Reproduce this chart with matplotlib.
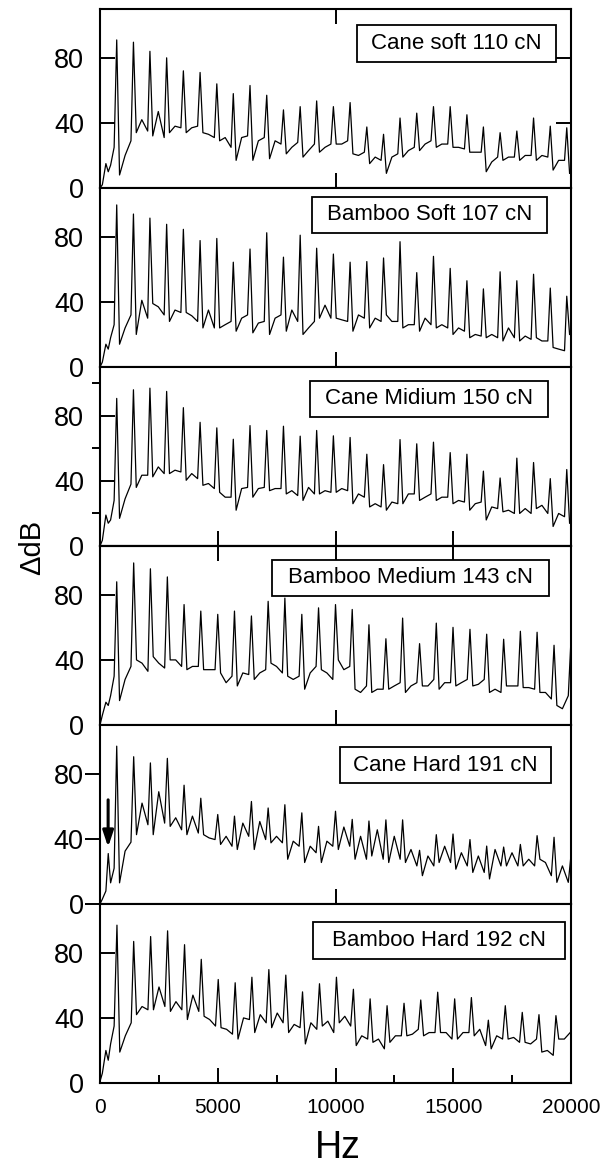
import matplotlib
matplotlib.use("Agg")
import matplotlib.pyplot as plt
from matplotlib.patches import Rectangle

plt.rcParams["font.family"] = ["Liberation Sans", "DejaVu Sans"]

# ---- data (Hz, dB) ----
RAMP_HZ = [0, 100, 250, 350, 450, 600]

# harmonic peak positions (Hz)
HARM_A = [710, 1420, 2120, 2830, 3540, 4250, 4960, 5660, 6370, 7080, 7790, 8500,
          9200, 9910, 10620, 11330, 12040, 12740, 13450, 14160, 14870, 15580,
          16280, 16990, 17700, 18410, 19120, 19820]
HARM_B = [710, 1430, 2140, 2860, 3570, 4280, 5000, 5710, 6430, 7140, 7850, 8570,
          9280, 10000, 10710, 11420, 12140, 12850, 13570, 14280, 14990, 15710,
          16420, 17140, 17850, 18560, 19280, 19990]
HARM_C = [720, 1430, 2150, 2870, 3590, 4300, 5020, 5740, 6450, 7170, 7890, 8600,
          9320, 10040, 10760, 11470, 12190, 12910, 13620, 14340, 15060, 15770,
          16490, 17210, 17930, 18640, 19360]

# offsets of trough / mid / pre-peak points after each harmonic
T_OFF, M_OFF, P_OFF = 120, 355, 605

CANE_SOFT_RAMP = [0, 2, 15, 10, 14, 25]
CANE_SOFT_PEAK = [91, 89.6, 84, 80, 72, 71, 64, 58, 63, 57, 48, 50, 53.5, 50, 52.5,
                  37.5, 33, 43, 46, 50, 50, 45, 37.5, 34, 35, 43, 38, 37]
CANE_SOFT_TROUGH = [8, 34, 32, 34, 34, 34, 29, 17, 17, 18, 21, 19, 22, 27, 21, 15, 9,
                    19, 23, 25, 25, 22, 10, 17, 17, 17, 11, 9]
CANE_SOFT_MID = [20, 42, 47, 38, 37, 33, 31, 31, 29, 29, 25, 23, 25, 27, 20, 19, 19,
                 23, 27, 27, 25, 22, 16, 19, 20, 20, 17]
CANE_SOFT_PRE = [29, 35, 31, 37, 38, 31, 25, 32, 31, 27, 28, 27, 27, 29, 22, 17, 21,
                 25, 29, 27, 24, 22, 19, 19, 20, 19, 17]

BAMBOO_SOFT_RAMP = [0, 3, 14, 11, 18, 26]
BAMBOO_SOFT_PEAK = [99.6, 94, 91.5, 87.7, 84.6, 77.7, 79, 64.4, 72.5, 82.5, 67.5, 81,
                    73, 69.4, 64.4, 64.8, 67, 77, 58, 68, 60.6, 53, 48, 58.5, 53, 57,
                    48.5, 43.5]
BAMBOO_SOFT_TROUGH = [14, 20, 39, 28, 33.5, 24, 24, 22, 21, 20, 22, 20, 30, 30, 22, 24,
                      32, 24, 22, 24, 20, 18, 18, 16, 16, 18, 12, 20]
BAMBOO_SOFT_MID = [24, 41, 37, 35, 31.5, 35, 26, 30, 27, 30, 35, 24, 38, 29, 32, 30,
                   28, 26, 30, 26, 24, 20, 20, 24, 19, 16, 11]
BAMBOO_SOFT_PRE = [32, 30, 32, 33.5, 28, 24, 28, 32, 28, 32, 28, 28, 30, 28, 30, 28,
                   28, 26, 26, 24, 22, 19, 18, 18, 17, 16, 10]

CANE_MED_RAMP = [0, 3.5, 19, 14, 16, 28]
CANE_MED_PEAK = [90.7, 96, 97, 95, 85, 76, 72.6, 65.6, 74, 71, 73.6, 67.5, 71, 67.7,
                 66.7, 56.4, 50, 65.4, 62.8, 63.8, 57.4, 56.4, 46, 41.8, 54, 51.3,
                 41.4, 47]
CANE_MED_TROUGH = [17, 36, 42.5, 44.5, 40.4, 37.3, 33, 22, 30, 34, 32, 28, 32, 33, 26,
                   24, 22, 26, 28, 28, 26, 22, 16, 21, 20, 23, 12, 14]
CANE_MED_MID = [29, 43.5, 48.6, 46.6, 44.5, 38.4, 30, 35.3, 35.3, 35.3, 34, 36, 34,
                35.3, 32, 26, 27, 32, 30, 30, 28, 26, 24, 22, 23, 25, 20]
CANE_MED_PRE = [38, 43.5, 44.5, 45.5, 41.4, 35.3, 30, 36, 36, 35.3, 31, 32, 33, 34,
                30, 24, 26, 32, 32, 30, 27, 27, 23, 20, 20, 20, 18]

BAMBOO_MED_RAMP = [0, 6, 14, 12, 18, 30]
BAMBOO_MED_PEAK = [88, 99.6, 96, 91, 74, 70, 68, 70, 67, 76, 78, 68, 72, 74, 71, 61.6,
                   53, 65.7, 50, 62.6, 60, 58.8, 55.8, 52.7, 57.6, 57, 49, 49.7]
BAMBOO_MED_TROUGH = [15, 40, 42, 40, 34, 34, 32, 24, 28, 38, 30, 22, 34, 40, 22, 20,
                     22, 20, 24, 22, 24, 24, 20, 24, 23, 20, 12]
BAMBOO_MED_MID = [28, 38, 38, 40, 36, 34, 26, 32, 32, 36, 28, 32, 32, 34, 20, 22, 24,
                  24, 24, 26, 26, 25, 22, 24, 23, 20, 10]
BAMBOO_MED_PRE = [36, 33, 35, 36, 36, 34, 30, 31, 34, 32, 30, 36, 28, 36, 24, 22, 26,
                  26, 28, 26, 28, 28, 20, 24, 22, 16, 18]

CANE_HARD_RAMP = [0, 3, 8, 31, 13, 22]
CANE_HARD_PEAK = [97, 90.5, 86.7, 89.5, 73, 65, 55, 54, 63, 59, 61, 56, 47.7, 57, 52,
                  51, 51.7, 51.7, 33, 42.6, 43, 39.6, 35.6, 35, 36.6, 42, 41, 28.5]
CANE_HARD_TROUGH = [13, 42.6, 42.6, 47.7, 42.6, 42.6, 36.6, 33.5, 33.5, 37.6, 27.5,
                    25.5, 25.5, 33.5, 27.5, 29.5, 25.5, 25.5, 17.4, 25.5, 21.4, 19.4,
                    15.4, 23.4, 23.4, 27.5, 13.3]
CANE_HARD_MID = [32.5, 62, 69, 53, 54, 40.6, 41.6, 49.7, 50.7, 41.6, 38.6, 35.5, 38.6,
                 47.3, 41.6, 45.6, 41.6, 33.5, 29.5, 35.5, 31.5, 29.5, 33.5, 31.5,
                 27.5, 25.5, 23.4]
CANE_HARD_PRE = [38, 48.7, 49.7, 45.6, 43.6, 39.6, 35.5, 41.6, 39.6, 37.6, 35.5, 31.5,
                 35.5, 35.5, 27.5, 27.5, 27.5, 23.4, 23.4, 25.5, 23.4, 19.4, 23.4,
                 23.4, 23.4, 17.4, 13.3]

BAMBOO_HARD_RAMP = [1, 6, 20, 14, 24, 35]
BAMBOO_HARD_PEAK = [97, 87, 90, 93.5, 85, 76, 63.6, 61.6, 65, 69.7, 66.3, 56, 61, 65,
                    57.6, 51.7, 47.5, 49, 51, 55.8, 51.7, 52.5, 38.6, 47.5, 43.4, 42,
                    41.4]
BAMBOO_HARD_TROUGH = [19, 42, 45, 44, 39, 41, 34, 27, 31, 34, 31, 24, 35, 37, 23, 25,
                      25, 29, 29, 31, 27, 29, 21, 27, 25, 19, 27]
BAMBOO_HARD_MID = [29, 47, 59, 50, 54, 39, 33, 40, 42, 43, 36, 37, 38, 41, 29, 27, 29,
                   30, 31, 31, 31, 33, 29, 28, 24, 20, 27]
BAMBOO_HARD_PRE = [37, 45, 47, 45, 44, 35, 30, 39, 37, 37, 34, 33, 31, 35, 27, 21, 29,
                   33, 31, 27, 31, 23, 27, 25, 27, 17, 31]

LABELS = ["Cane soft 110 cN", "Bamboo Soft 107 cN", "Cane Midium 150 cN",
          "Bamboo Medium 143 cN", "Cane Hard 191 cN", "Bamboo Hard 192 cN"]

PANELS = [
    (HARM_A, CANE_SOFT_RAMP, CANE_SOFT_PEAK, CANE_SOFT_TROUGH, CANE_SOFT_MID, CANE_SOFT_PRE),
    (HARM_A, BAMBOO_SOFT_RAMP, BAMBOO_SOFT_PEAK, BAMBOO_SOFT_TROUGH, BAMBOO_SOFT_MID, BAMBOO_SOFT_PRE),
    (HARM_A, CANE_MED_RAMP, CANE_MED_PEAK, CANE_MED_TROUGH, CANE_MED_MID, CANE_MED_PRE),
    (HARM_B, BAMBOO_MED_RAMP, BAMBOO_MED_PEAK, BAMBOO_MED_TROUGH, BAMBOO_MED_MID, BAMBOO_MED_PRE),
    (HARM_B, CANE_HARD_RAMP, CANE_HARD_PEAK, CANE_HARD_TROUGH, CANE_HARD_MID, CANE_HARD_PRE),
    (HARM_C, BAMBOO_HARD_RAMP, BAMBOO_HARD_PEAK, BAMBOO_HARD_TROUGH, BAMBOO_HARD_MID, BAMBOO_HARD_PRE),
]

# arrow on the "Cane Hard" panel (Hz, dB tail -> tip)
ARROW_HZ, ARROW_TAIL_DB, ARROW_TIP_DB = 345, 64, 35

# label frames, axes fractions (x0, y0, w, h)
BOXES = [(0.546, 0.704, 0.4225, 0.207), (0.450, 0.749, 0.499, 0.201),
         (0.446, 0.721, 0.505, 0.201), (0.365, 0.721, 0.588, 0.201),
         (0.5096, 0.676, 0.448, 0.201), (0.452, 0.693, 0.535, 0.207)]


def trace(harm, ramp, peaks, troughs, mids, pres):
    hz, db = list(RAMP_HZ), list(ramp)
    for k, f in enumerate(harm):
        hz.append(f)
        db.append(peaks[k])
        for off, vals in ((T_OFF, troughs), (M_OFF, mids), (P_OFF, pres)):
            if k < len(vals):
                hz.append(f + off)
                db.append(vals[k])
    return hz, db


W, H = 614, 1171
fig = plt.figure(figsize=(W / 100, H / 100), dpi=100)
LEFT, RIGHT, TOP, PH = 100, 571, 9, 179

axes = []
for i, spec in enumerate(PANELS):
    top = TOP + PH * i
    ax = fig.add_axes([LEFT / W, 1 - (top + PH) / H, (RIGHT - LEFT) / W, PH / H])
    axes.append(ax)
    hz, db = trace(*spec)
    ax.plot(hz, db, color="black", lw=0.9)
    ax.set_xlim(0, 20000)
    ax.set_ylim(0, 110)
    for s in ax.spines.values():
        s.set_linewidth(1.5)
    ax.set_yticks([0, 40, 80])
    ax.tick_params(axis="y", which="major", direction="in", length=10.8, width=1.4,
                   labelsize=19.5, pad=11.5)
    ax.tick_params(axis="x", which="major", direction="in", length=10.8, width=1.4,
                   labelsize=15, pad=10.5)
    ax.tick_params(axis="x", which="minor", direction="in", length=5.6, width=1.4)

    x0, y0, bw, bh = BOXES[i]
    ax.add_patch(Rectangle((x0, y0), bw, bh, transform=ax.transAxes, fill=True,
                           fc="white", ec="black", lw=1.3, zorder=4))
    ax.text(x0 + bw / 2, y0 + bh / 2, LABELS[i], transform=ax.transAxes,
            ha="center", va="center", fontsize=16, zorder=5)

    if i < 5:
        ax.tick_params(axis="x", labelbottom=False)

# per-panel tick quirks
axes[0].set_xticks([10000])
axes[0].tick_params(axis="x", top=True)
axes[0].tick_params(axis="y", right=True)
axes[1].set_xticks([10000])
axes[2].set_xticks([5000, 10000, 15000])
axes[2].set_yticks([20, 60, 100], minor=True)
axes[2].tick_params(axis="y", which="minor", direction="out", length=5.5, width=1.4)
axes[3].set_xticks([10000])
sec = axes[3].secondary_xaxis("top")
sec.set_xticks([5000, 10000, 15000])
sec.tick_params(direction="in", length=10.8, width=1.4, labeltop=False)
sec.spines["top"].set_linewidth(1.5)
axes[4].set_xticks([10000])
axes[4].tick_params(axis="y", which="major", direction="out", length=11, pad=0.7)
axes[5].set_xticks([0, 5000, 10000, 15000, 20000])
axes[5].set_xticks([2500, 7500, 12500, 17500], minor=True)

axes[4].annotate("", xy=(ARROW_HZ, ARROW_TIP_DB), xytext=(ARROW_HZ, ARROW_TAIL_DB),
                 arrowprops=dict(arrowstyle="-|>,head_length=0.6,head_width=0.2",
                                 color="black", lw=2.2, mutation_scale=16,
                                 shrinkA=0, shrinkB=0))

fig.text(32 / W, 1 - 547 / H, "ΔdB", rotation=90, ha="center", va="center", fontsize=21)
fig.text(338 / W, 1 - 1148 / H, "Hz", ha="center", va="center", fontsize=27)

fig.savefig("out.png", dpi=100, facecolor="white")
